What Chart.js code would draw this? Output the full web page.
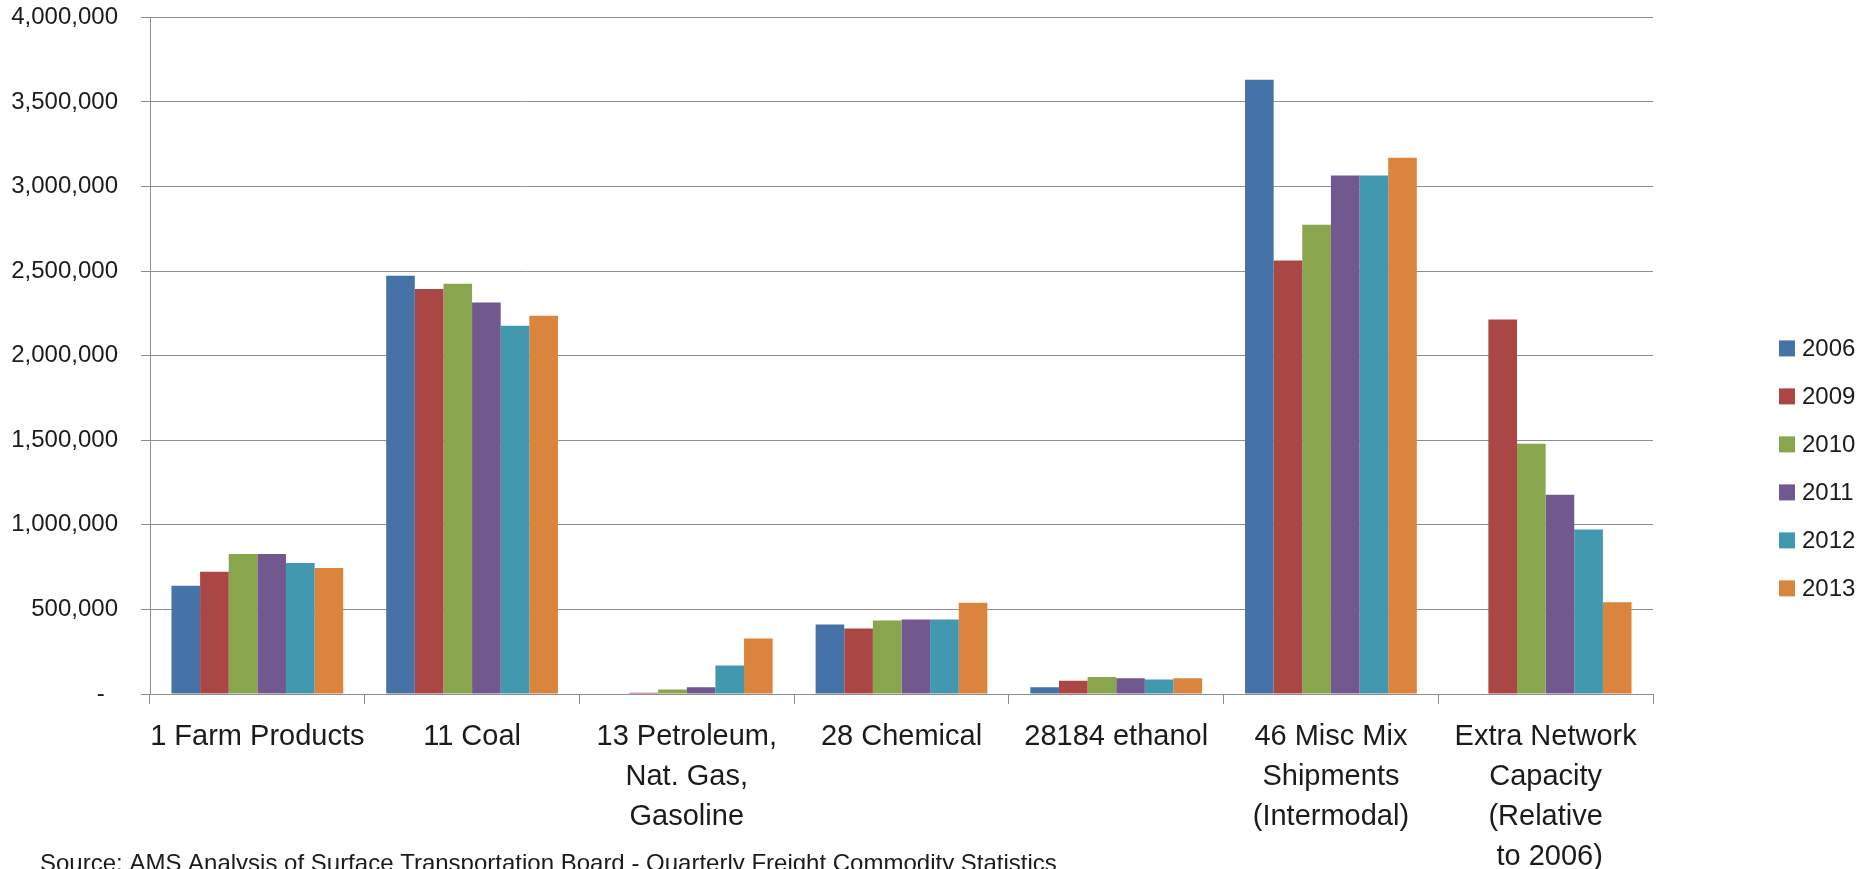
<!DOCTYPE html>
<html>
<head>
<meta charset="utf-8">
<title>Rail Carloads by Commodity</title>
<script src="https://cdn.jsdelivr.net/npm/chart.js@4/dist/chart.umd.min.js"></script>
<style>
  html, body { margin: 0; padding: 0; background: #fff; overflow: hidden; }
  canvas { display: block; }
</style>
</head>
<body>
<canvas id="freightChart" width="1866" height="869"></canvas>
<script>
// Commodity groups (multi-line labels)
const categories = [
    '1 Farm Products',
    '11 Coal',
    ['13 Petroleum,', 'Nat. Gas,', 'Gasoline'],
    '28 Chemical',
    '28184 ethanol',
    ['46 Misc Mix', 'Shipments', '(Intermodal)'],
    ['Extra Network', 'Capacity', '(Relative', ' to 2006)']
];

const years = ['2006', '2009', '2010', '2011', '2012', '2013'];

// Carloads per year, one value per commodity group
const s2006 = [640000, 2472000, 0, 411000, 40000, 3631000, 0];
const s2009 = [723000, 2395000, 8000, 387000, 79000, 2563000, 2214000];
const s2010 = [827000, 2425000, 26000, 434000, 101000, 2774000, 1479000];
const s2011 = [827000, 2315000, 40000, 440000, 93000, 3066000, 1178000];
const s2012 = [774000, 2177000, 168000, 440000, 85000, 3066000, 973000];
const s2013 = [745000, 2236000, 328000, 539000, 93000, 3170000, 542000];

const seriesValues = [s2006, s2009, s2010, s2011, s2012, s2013];
const colors = ['#4572A7', '#AA4643', '#89A54E', '#71588F', '#4198AF', '#DB843D'];

const yTicks = [0, 500000, 1000000, 1500000, 2000000, 2500000, 3000000, 3500000, 4000000];

const sourceNote = 'Source: AMS Analysis of Surface Transportation Board - Quarterly Freight Commodity Statistics';

const FONT = '"Liberation Sans", Arial, sans-serif';
const TEXT = '#1b1b1b';
const GRID = '#8f8f8f';

// accounting-style number: trailing space, dash for zero
function fmtCount(v) {
    return v === 0 ? '-     ' : v.toLocaleString('en-US') + '   ';
}

// Legend on the right plus the source line under the chart
const sideNotes = {
    id: 'sideNotes',
    afterDraw(chart) {
        const c = chart.ctx;
        const area = chart.chartArea;
        c.save();
        c.font = '24px ' + FONT;
        c.textBaseline = 'middle';
        chart.data.datasets.forEach((ds, i) => {
            const y = area.top + 331 + i * 48;
            const x = area.right + 126;
            c.fillStyle = ds.backgroundColor;
            c.fillRect(x, y - 8, 16, 16);
            c.fillStyle = TEXT;
            c.textAlign = 'left';
            c.fillText(ds.label, x + 23, y + 1);
        });
        c.textBaseline = 'alphabetic';
        c.fillText(sourceNote, 40, 871);
        c.restore();
    }
};

const ctx = document.getElementById('freightChart').getContext('2d');
new Chart(ctx, {
    type: 'bar',
    data: {
        labels: categories,
        datasets: years.map((yr, i) => ({
            label: yr,
            data: seriesValues[i],
            backgroundColor: colors[i],
            borderWidth: 0
        }))
    },
    options: {
        responsive: false,
        animation: false,
        devicePixelRatio: 1,
        layout: { padding: { top: 0, right: 213, left: 0, bottom: 0 } },
        datasets: {
            bar: { categoryPercentage: 0.8, barPercentage: 1.0 }
        },
        plugins: {
            legend: { display: false },
            tooltip: { enabled: false }
        },
        scales: {
            x: {
                afterFit(scale) { scale.height = 175; },
                grid: {
                    display: true,
                    drawOnChartArea: false,
                    drawTicks: true,
                    tickLength: 10,
                    color: GRID,
                    offset: true
                },
                border: { display: true, color: GRID, width: 1 },
                ticks: {
                    color: TEXT,
                    font: { family: FONT, size: 29, lineHeight: 1.38 },
                    padding: 13,
                    maxRotation: 0,
                    autoSkip: false
                }
            },
            y: {
                min: 0,
                max: 4000000,
                afterFit(scale) { scale.width = 150; },
                afterBuildTicks(scale) {
                    scale.ticks = yTicks.map(v => ({ value: v }));
                },
                grid: {
                    color: GRID,
                    lineWidth: 1,
                    tickLength: 9,
                    drawTicks: true
                },
                border: { display: true, color: GRID, width: 1 },
                ticks: {
                    color: TEXT,
                    font: { family: FONT, size: 24 },
                    padding: 3,
                    callback: fmtCount
                }
            }
        }
    },
    plugins: [sideNotes]
});
</script>
</body>
</html>
